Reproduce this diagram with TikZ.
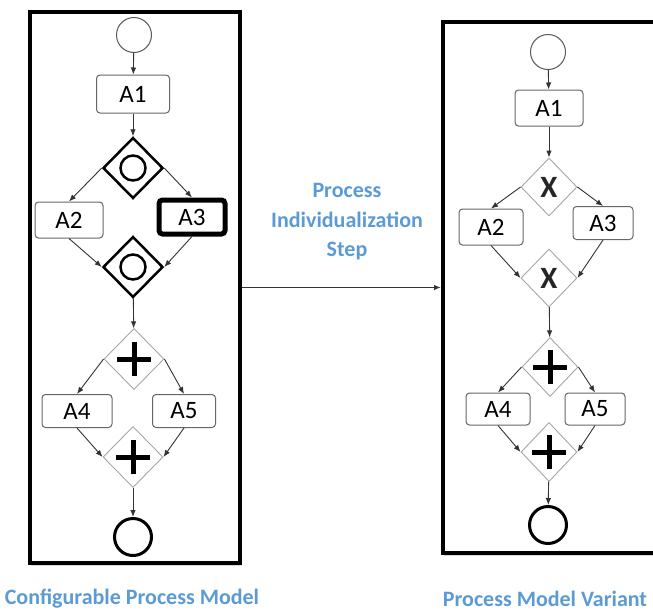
\documentclass[tikz,border=0pt]{standalone}
\usepackage{fontspec}
\setmainfont{Carlito}
\usetikzlibrary{shapes.geometric,arrows.meta,shadows}
\definecolor{capblue}{RGB}{91,155,213}

\begin{document}
\begin{tikzpicture}[x=1pt,y=-1pt,
          frm/.style = {draw, line width=4pt, fill=white, inner sep=0pt,
            drop shadow={shadow xshift=1pt, shadow yshift=-3pt, opacity=.3}},
          act/.style = {draw=black!60, line width=1pt, rounded corners=3.5pt, inner sep=0pt,
            minimum height=36pt, font=\fontsize{25}{30}\selectfont},
          ev/.style = {draw=black!65, line width=1pt, circle, inner sep=0pt, minimum size=35pt},
          endev/.style = {draw, circle, line width=3pt, inner sep=0pt, minimum size=37pt},
          gw/.style = {diamond, inner sep=0pt, minimum width=60pt, minimum height=61pt},
          orgw/.style = {gw, draw, line width=2.5pt,
            path picture={\draw[line width=2.5pt] (path picture bounding box.center) circle (12.5pt);}},
          plusgw/.style = {gw, draw=black!35, line width=.9pt,
            path picture={\draw[black, line width=5pt]
              ([xshift=-17pt]path picture bounding box.center) -- ([xshift=17pt]path picture bounding box.center)
              ([yshift=-17pt]path picture bounding box.center) -- ([yshift=17pt]path picture bounding box.center);}},
          xgw/.style = {gw, draw=black!35, line width=.9pt, minimum width=56pt, minimum height=58pt,
            text=black!85, font=\bfseries\fontsize{31}{31}\selectfont},
          arr/.style = {-{Latex[length=7pt,width=5.5pt]}, draw=black!80, line width=.9pt},
          captxt/.style = {text=capblue, inner sep=1pt, font=\bfseries\fontsize{22}{29.5}\selectfont},
        ]
        \useasboundingbox (0,0) rectangle (653,611);
        % the two frames
        \node[frm, minimum width=210pt, minimum height=551pt] (cfg) at (135,287.5) {};
        \node[frm, minimum width=217pt, minimum height=531pt] (var) at (551.5,287.5) {};
        \draw[arr, line width=1.4pt] (cfg.east) -- (var.west);
        \node[captxt, align=center] (step) at (347,222) {Process\\Individualization\\Step};

        % configurable model
        \node[ev] (s1) at (134,35) {};
        \node[act, minimum width=73pt, minimum height=38pt] (a1) at (133,94) {A1};
        \node[orgw] (o1) at (133,168) {};
        \node[act, minimum width=68pt] (a2) at (69,220) {A2};
        \node[act, draw=black, line width=5pt, minimum width=66pt, minimum height=34pt] (a3) at (192,217) {A3};
        \node[orgw] (o2) at (133,267) {};
        \node[plusgw] (p1) at (134,359) {};
        \node[act, minimum width=70pt, minimum height=33pt] (a4) at (77,411) {A4};
        \node[act, minimum width=63pt, minimum height=33pt] (a5) at (184,411) {A5};
        \node[plusgw] (p2) at (133,457) {};
        \node[endev] (e1) at (133,537) {};
        \draw[arr] (s1) -- (a1);
        \draw[arr] (a1) -- (o1);
        \draw[arr] (o1.west) -- (a2.north);
        \draw[arr] (o1.east) -- (a3.north);
        \draw[arr] (a2.south) -- (o2.west);
        \draw[arr] (a3.south) -- (o2.east);
        \draw[arr] (o2) -- (p1);
        \draw[arr] (p1.west) -- (a4.north);
        \draw[arr] (p1.east) -- (a5.north);
        \draw[arr] (a4.south) -- (p2.west);
        \draw[arr] (a5.south) -- (p2.east);
        \draw[arr] (p2) -- (e1);
        \node[captxt] (t1) at (132,599) {Configurable Process Model};

        % variant
        \node[ev] (s2) at (548,52) {};
        \node[act, minimum width=68pt] (b1) at (549,108) {A1};
        \node[xgw] (x1) at (549,187) {X};
        \node[act, minimum width=64pt] (b2) at (491,227) {A2};
        \node[act, minimum width=60pt, minimum height=33pt] (b3) at (603,223) {A3};
        \node[xgw] (x2) at (549,278) {X};
        \node[plusgw, minimum width=56pt, minimum height=59pt] (q1) at (550,367) {};
        \node[act, minimum width=64pt, minimum height=32pt] (b4) at (498,409) {A4};
        \node[act, minimum width=60pt, minimum height=32pt] (b5) at (595,409) {A5};
        \node[plusgw, minimum width=56pt, minimum height=59pt] (q2) at (549,452) {};
        \node[endev] (e2) at (548,525) {};
        \draw[arr] (s2) -- (b1);
        \draw[arr] (b1) -- (x1);
        \draw[arr] (x1.west) -- (b2.north);
        \draw[arr] (x1.east) -- (b3.north);
        \draw[arr] (b2.south) -- (x2.west);
        \draw[arr] (b3.south) -- (x2.east);
        \draw[arr] (x2) -- (q1);
        \draw[arr] (q1.west) -- (b4.north);
        \draw[arr] (q1.east) -- (b5.north);
        \draw[arr] (b4.south) -- (q2.west);
        \draw[arr] (b5.south) -- (q2.east);
        \draw[arr] (q2) -- (e2);
        \node[captxt] (t2) at (545,599) {Process Model Variant};
      \end{tikzpicture}
\end{document}
